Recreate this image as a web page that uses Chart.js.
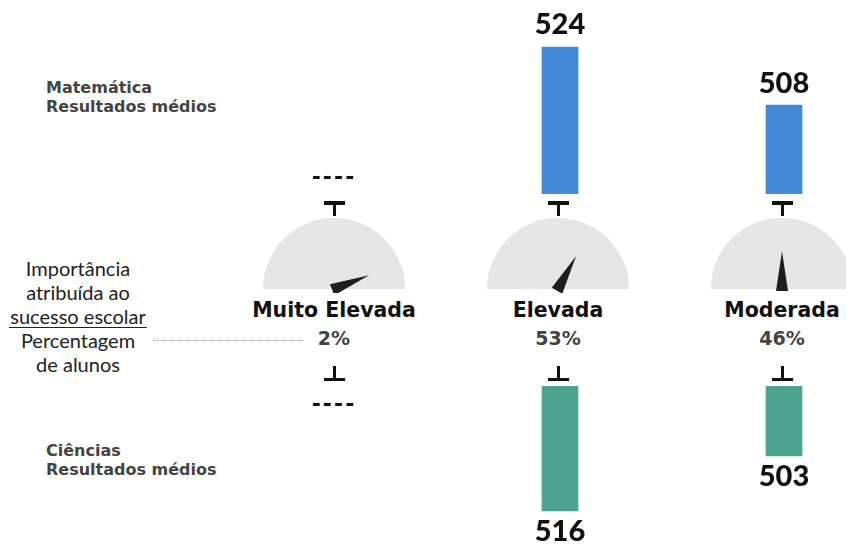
<!DOCTYPE html>
<html>
<head>
<meta charset="utf-8">
<script src="https://cdn.jsdelivr.net/npm/chart.js@4.4.0/dist/chart.umd.min.js"></script>
<style>
  html, body { margin: 0; padding: 0; background: #fff; }
  body { width: 846px; height: 544px; position: relative; overflow: hidden; font-family: Lato, sans-serif; }
  .box { position: absolute; }
  #mathBox { left: 224px; top: 0; width: 672px; height: 194px; }
  #sciBox { left: 224px; top: 386px; width: 672px; height: 158px; }
  .subject { position: absolute; left: 46px; font-family: "DejaVu Sans", sans-serif; font-weight: bold;
             font-size: 16px; line-height: 19px; color: #444; }
  #legendText { position: absolute; left: 0; top: 256px; width: 156px; text-align: center;
                font-size: 20px; line-height: 24px; color: #222; }
  #legendText .under { display: inline-block; border-bottom: 1.5px solid #222; padding: 0 1px; line-height: 22px; }
  #dots { position: absolute; left: 153px; top: 340px; width: 150px; border-top: 1px dotted #999; }
  .cat { position: absolute; width: 220px; margin-left: -110px; text-align: center; top: 298px;
         font-family: "DejaVu Sans", sans-serif; font-weight: bold; font-size: 20.5px; color: #111; }
  .pct { position: absolute; width: 100px; margin-left: -50px; text-align: center; top: 327px;
         font-family: "DejaVu Sans", sans-serif; font-weight: bold; font-size: 19px; color: #444; }
  .tee { position: absolute; width: 21px; margin-left: -10px; height: 15px; }
  .tee .bar { position: absolute; left: 0; width: 21px; height: 3.5px; background: #111; }
  .tee .stem { position: absolute; left: 8.75px; width: 3.5px; height: 15px; background: #111; top: 0; }
</style>
</head>
<body>
<div class="subject" style="top:78px">Matemática<br>Resultados médios</div>
<div class="subject" style="top:441px">Ciências<br>Resultados médios</div>
<div id="legendText">Importância<br>atribuída ao<br><span class="under">sucesso escolar</span><br>Percentagem<br>de alunos</div>
<div id="dots"></div>
<div class="box" id="mathBox"><canvas id="mathChart"></canvas></div>
<div class="box" id="sciBox"><canvas id="sciChart"></canvas></div>
<div id="columns"></div>

<script>
// Data
const categories = ["Muito Elevada", "Elevada", "Moderada"];
const studentShare = [2, 53, 46];            // % of students
const mathScores = [null, 524, 508];         // Matemática, mean score
const scienceScores = [null, 516, 503];      // Ciências, mean score
const importanceLevel = [0.88, 0.66, 0.5];   // needle position on the gauge (0 = left, 1 = right)

// Draws the score above / below each bar, "----" when there is no score
const valueLabels = {
    id: "valueLabels",
    afterDatasetsDraw(chart, args, opts) {
        const ctx = chart.ctx;
        const meta = chart.getDatasetMeta(0);
        const values = chart.data.datasets[0].data;
        const base = chart.scales.y.getBasePixel();
        ctx.save();
        ctx.textAlign = "center";
        ctx.textBaseline = "middle";
        ctx.fillStyle = "#111";
        meta.data.forEach((bar, i) => {
            const x = chart.scales.x.getPixelForValue(i);
            if (values[i] == null) {
                ctx.font = "bold 22px 'DejaVu Sans'";
                ctx.letterSpacing = "2px";
                ctx.fillText("----", x - 2, base + opts.dir * opts.emptyOffset);
                ctx.letterSpacing = "0px";
            } else {
                ctx.font = "900 29px Lato";
                ctx.fillText(values[i], x, bar.y + opts.dir * opts.offset);
            }
        });
        ctx.restore();
    }
};

function barConfig(values, color, min, max, reverse) {
    return {
        type: "bar",
        data: {
            labels: categories,
            datasets: [{ data: values, backgroundColor: color, barThickness: 36, borderWidth: 0 }]
        },
        options: {
            responsive: true,
            maintainAspectRatio: false,
            animation: false,
            events: [],
            layout: { padding: 0 },
            scales: {
                x: { display: false },
                y: { display: false, min: min, max: max, reverse: reverse }
            },
            plugins: {
                legend: { display: false },
                tooltip: { enabled: false },
                valueLabels: reverse ? { dir: 1, offset: 21, emptyOffset: 19 } : { dir: -1, offset: 22, emptyOffset: 16 }
            }
        },
        plugins: [valueLabels]
    };
}

const mathChart = new Chart(document.getElementById("mathChart"), barConfig(mathScores, "#4389d6", 483.5, 537, false));
const sciChart = new Chart(document.getElementById("sciChart"), barConfig(scienceScores, "#4ba390", 486.5, 523.8, true));

// Needle on the half-doughnut gauge
const needle = {
    id: "needle",
    afterDatasetsDraw(chart) {
        const arc = chart.getDatasetMeta(0).data[0];
        const len = arc.outerRadius * 0.53;
        const ctx = chart.ctx;
        ctx.save();
        ctx.translate(arc.x, arc.y);
        ctx.rotate(arc.endAngle);
        ctx.beginPath();
        ctx.moveTo(len, 0);
        ctx.lineTo(-2, -6);
        ctx.lineTo(-2, 6);
        ctx.closePath();
        ctx.fillStyle = "#1e1e1e";
        ctx.fill();
        ctx.restore();
    }
};

// Columns: gauges, category names, percentages and T markers
const columns = document.getElementById("columns");
const boxLeft = 222;
categories.forEach((name, i) => {
    const cx = boxLeft + mathChart.scales.x.getPixelForValue(i);

    const g = document.createElement("div");
    g.className = "box";
    g.style.cssText = `left:${cx - 71}px;top:218px;width:142px;height:75px;`;
    const c = document.createElement("canvas");
    g.appendChild(c);
    columns.appendChild(g);
    new Chart(c, {
        type: "doughnut",
        data: {
            datasets: [{
                data: [importanceLevel[i], 1 - importanceLevel[i]],
                backgroundColor: ["#e5e5e5", "#e5e5e5"],
                borderWidth: 0
            }]
        },
        options: {
            responsive: true,
            maintainAspectRatio: false,
            animation: false,
            events: [],
            rotation: -90,
            circumference: 180,
            cutout: 0,
            layout: { padding: { bottom: 4 } },
            plugins: { legend: { display: false }, tooltip: { enabled: false } }
        },
        plugins: [needle]
    });

    const label = document.createElement("div");
    label.className = "cat";
    label.style.left = cx + "px";
    label.textContent = name;
    columns.appendChild(label);

    const pct = document.createElement("div");
    pct.className = "pct";
    pct.style.left = cx + "px";
    pct.textContent = studentShare[i] + "%";
    columns.appendChild(pct);

    const top = document.createElement("div");
    top.className = "tee";
    top.style.left = cx + "px";
    top.style.top = "201px";
    top.innerHTML = '<div class="bar" style="top:0"></div><div class="stem"></div>';
    columns.appendChild(top);

    const bottom = document.createElement("div");
    bottom.className = "tee";
    bottom.style.left = cx + "px";
    bottom.style.top = "366px";
    bottom.innerHTML = '<div class="bar" style="top:11.5px"></div><div class="stem"></div>';
    columns.appendChild(bottom);
});
</script>
</body>
</html>
